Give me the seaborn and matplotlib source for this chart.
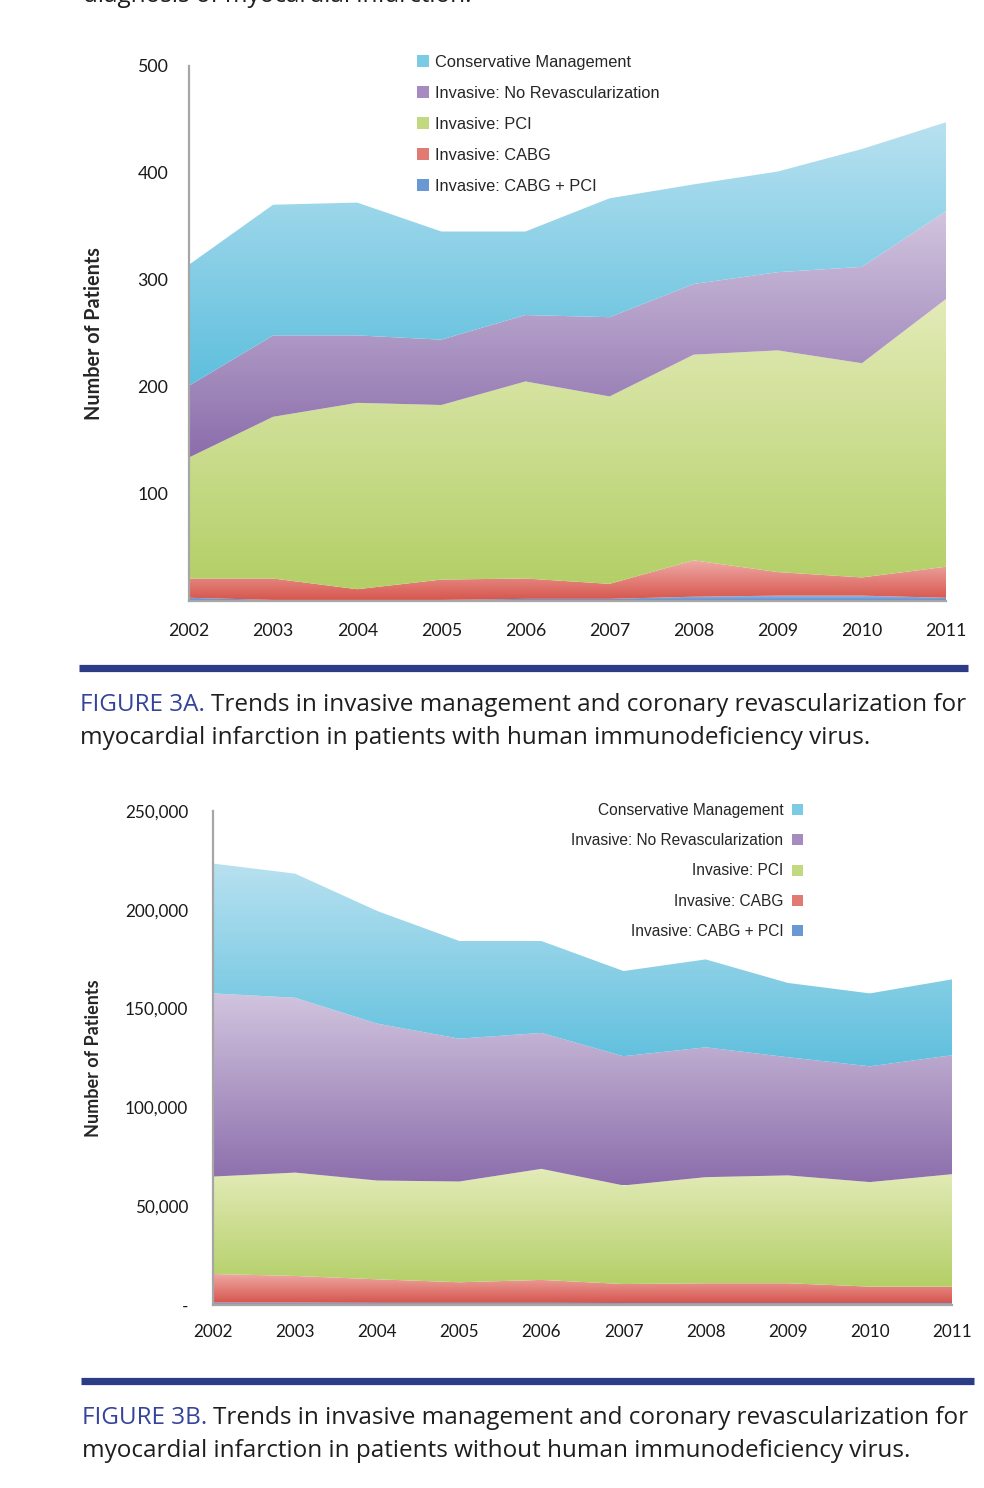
import numpy as np
import matplotlib
matplotlib.use("Agg")
import matplotlib.pyplot as plt
import seaborn as sns
from matplotlib.colors import LinearSegmentedColormap
from matplotlib.patches import Patch

# Values (stacked area, bottom to top)
years = [2002, 2003, 2004, 2005, 2006, 2007, 2008, 2009, 2010, 2011]
series_names = ['Invasive: CABG + PCI', 'Invasive: CABG', 'Invasive: PCI',
                'Invasive: No Revascularization', 'Conservative Management']

# Figure 3A - patients with HIV
hiv_cabg_pci = [3, 1, 1, 1, 2, 2, 4, 5, 5, 3]
hiv_cabg = [18, 20, 10, 19, 19, 14, 34, 22, 17, 29]
hiv_pci = [113, 151, 174, 163, 184, 175, 192, 207, 200, 250]
hiv_norevasc = [67, 76, 63, 61, 62, 74, 66, 73, 90, 82]
hiv_conservative = [113, 122, 124, 101, 78, 111, 93, 94, 110, 83]

# Figure 3B - patients without HIV
nohiv_cabg_pci = [1200, 1200, 1100, 1100, 1100, 1000, 1000, 1000, 1000, 1000]
nohiv_cabg = [14500, 13500, 11900, 10400, 11600, 9600, 10000, 10000, 8300, 8300]
nohiv_pci = [49300, 52300, 50000, 51000, 56200, 49900, 53700, 54600, 52900, 56900]
nohiv_norevasc = [92700, 88500, 79400, 72300, 68800, 65400, 65700, 59800, 58600, 60200]
nohiv_conservative = [65700, 62800, 57000, 49400, 46500, 43100, 44500, 37600, 36900, 38400]

hiv_ticks = [0, 100, 200, 300, 400, 500]
hiv_ticklabels = ['', '100', '200', '300', '400', '500']
nohiv_ticks = [0, 50000, 100000, 150000, 200000, 250000]
nohiv_ticklabels = ['-', '50,000', '100,000', '150,000', '200,000', '250,000']

# (bottom colour, top colour) for each band's vertical gradient
grads = [('#5a88c8', '#9bbbe4'),
         ('#d6564d', '#efaaa6'),
         ('#b3cf66', '#e3ebb8'),
         ('#8b6dab', '#d2c5df'),
         ('#5ebfdd', '#b8e1f0')]
legend_cols = sns.color_palette(['#6a98d4', '#e07a73', '#c3d97f', '#a58bc0', '#7ccbe5'])

sns.set_style('white')
plt.rcParams['font.family'] = ['Lato', 'DejaVu Sans']

W, H = 984, 1488
fig = plt.figure(figsize=(W / 100, H / 100), dpi=100)


def px_axes(x0, x1, ytop, ybot):
    return fig.add_axes([x0 / W, 1 - ybot / H, (x1 - x0) / W, (ybot - ytop) / H])


def gradient_stack(ax, ys):
    polys = ax.stackplot(years, *ys, colors=[g[0] for g in grads], linewidth=0)
    for poly, (cb, ct) in zip(polys, grads):
        path = poly.get_paths()[0]
        v = path.vertices
        cmap = LinearSegmentedColormap.from_list('g', [cb, ct])
        im = ax.imshow(np.linspace(0, 1, 256).reshape(-1, 1), cmap=cmap, aspect='auto',
                       origin='lower', interpolation='bilinear',
                       extent=[v[:, 0].min(), v[:, 0].max(), v[:, 1].min(), v[:, 1].max()],
                       zorder=1)
        im.set_clip_path(path, ax.transData)
        poly.set_visible(False)


def style_axes(ax, ymax, ticks, labels, fs, pad_y, pad_x):
    ax.set_xlim(years[0], years[-1])
    ax.set_ylim(0, ymax)
    ax.set_xticks(years)
    ax.set_xticklabels([str(y) for y in years], fontsize=fs, color='#1a1a1a')
    ax.set_yticks(ticks)
    ax.set_yticklabels(labels, fontsize=fs, color='#1a1a1a')
    for s in ['top', 'right']:
        ax.spines[s].set_visible(False)
    for s in ['left', 'bottom']:
        ax.spines[s].set_color('#a6a6a6')
        ax.spines[s].set_linewidth(1.6)
        ax.spines[s].set_zorder(5)
    ax.tick_params(axis='y', direction='out', length=6, width=1.3, color='#a6a6a6', pad=pad_y)
    ax.tick_params(axis='x', direction='inout', length=10, width=1.3, color='#a6a6a6', pad=pad_x)
    ax.set_facecolor('white')


# ---------- Figure 3A ----------
ax1 = px_axes(189, 946, 65.5, 601)
gradient_stack(ax1, [hiv_cabg_pci, hiv_cabg, hiv_pci, hiv_norevasc, hiv_conservative])
style_axes(ax1, 500, hiv_ticks, hiv_ticklabels, 12.8, 9, 11)
ax1.set_ylabel('Number of Patients', fontsize=14.2, fontweight='bold', labelpad=24)

handles = [Patch(facecolor=c, edgecolor='none') for c in legend_cols[::-1]]
ax1.legend(handles, series_names[::-1], loc='upper left', bbox_to_anchor=(417 / W, 1 - 55 / H),
           bbox_transform=fig.transFigure, frameon=False, borderpad=0, borderaxespad=0,
           handlelength=0.72, handleheight=0.72, handletextpad=0.4, labelspacing=0.97,
           prop={'family': 'Liberation Sans', 'size': 11.8})

# ---------- Figure 3B ----------
ax2 = px_axes(213, 952, 811, 1305)
gradient_stack(ax2, [nohiv_cabg_pci, nohiv_cabg, nohiv_pci, nohiv_norevasc, nohiv_conservative])
style_axes(ax2, 250000, nohiv_ticks, nohiv_ticklabels, 12.3, 12, 9)
ax2.set_ylabel('Number of Patients', fontsize=13, fontweight='bold', labelpad=16)

ax2.legend(handles, series_names[::-1], loc='upper right', bbox_to_anchor=(803 / W, 1 - 803 / H),
           bbox_transform=fig.transFigure, frameon=False, borderpad=0, borderaxespad=0,
           markerfirst=False, handlelength=0.72, handleheight=0.72, handletextpad=0.55,
           labelspacing=0.98, prop={'family': 'Liberation Sans', 'size': 11.2})

# ---------- rules and captions ----------
navy = '#2d3c87'
fig.add_artist(plt.Line2D([79 / W, 968 / W], [1 - 667.5 / H] * 2, color=navy, linewidth=5.2,
                          solid_capstyle='butt'))
fig.add_artist(plt.Line2D([81 / W, 974 / W], [1 - 1380.5 / H] * 2, color=navy, linewidth=5.2,
                          solid_capstyle='butt'))

cap_font = ['Open Sans', 'DejaVu Sans']
cap_size = 17.5


def caption(x, y, tag, line1, line2):
    t = fig.text(x / W, 1 - y / H, tag, fontsize=cap_size, color='#33449a', family=cap_font,
                 va='center', ha='left')
    fig.canvas.draw()
    bb = t.get_window_extent()
    fig.text((bb.x1 + 6) / W, 1 - y / H, line1, fontsize=cap_size, color='#1e1e1e',
             family=cap_font, va='center', ha='left')
    fig.text(x / W, 1 - (y + 33) / H, line2, fontsize=cap_size, color='#1e1e1e',
             family=cap_font, va='center', ha='left')


caption(80, 705, 'FIGURE 3A.', 'Trends in invasive management and coronary revascularization for',
        'myocardial infarction in patients with human immunodeficiency virus.')
caption(82, 1418, 'FIGURE 3B.', 'Trends in invasive management and coronary revascularization for',
        'myocardial infarction in patients without human immunodeficiency virus.')

# text from the previous page, clipped by the top edge as in the source
fig.text(83 / W, 1 - 2 / H, 'diagnosis of myocardial infarction.', fontsize=cap_size,
         color='#1e1e1e', family=cap_font, va='baseline', ha='left')

fig.savefig('out.png', dpi=100)
